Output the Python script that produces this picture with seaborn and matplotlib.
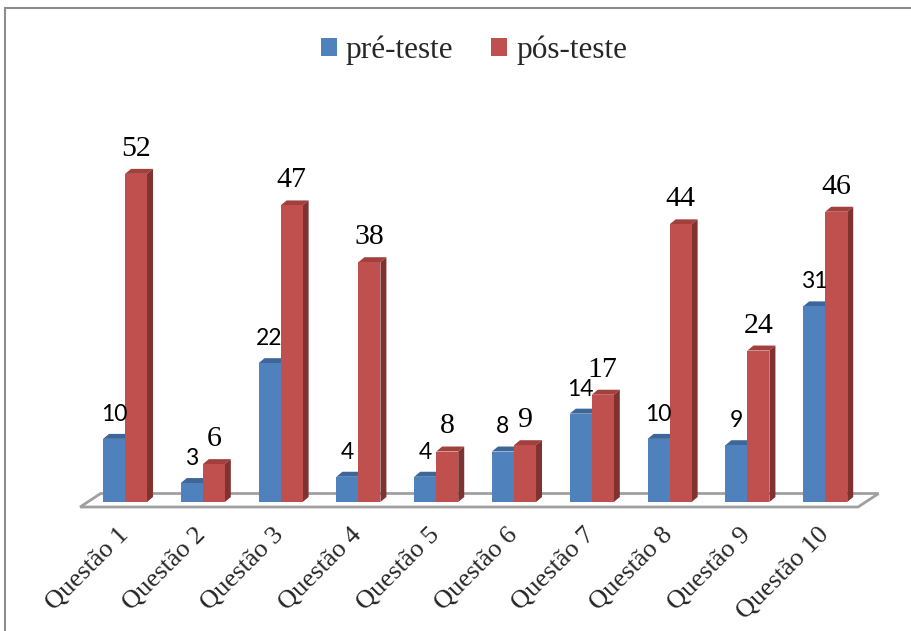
import numpy as np
import pandas as pd
import seaborn as sns
import matplotlib
matplotlib.use("Agg")
import matplotlib.pyplot as plt
from matplotlib.patches import Polygon, Rectangle
from matplotlib.lines import Line2D
from matplotlib.transforms import IdentityTransform

# --- data ---------------------------------------------------------------
questions = ["Questão 1", "Questão 2", "Questão 3", "Questão 4", "Questão 5",
             "Questão 6", "Questão 7", "Questão 8", "Questão 9", "Questão 10"]
series_names = ["pré-teste", "pós-teste"]
pre_test = [10, 3, 22, 4, 4, 8, 14, 10, 9, 31]
post_test = [52, 6, 47, 38, 8, 9, 17, 44, 24, 46]

df = pd.DataFrame({
    "questao": questions * 2,
    "teste": [series_names[0]] * len(questions) + [series_names[1]] * len(questions),
    "valor": pre_test + post_test,
})

# --- style --------------------------------------------------------------
sns.set_style("white")
plt.rcParams["font.family"] = ["Liberation Serif", "DejaVu Serif"]

front = {"pré-teste": "#4f81bd", "pós-teste": "#c0504d"}
top_col = {"pré-teste": "#3e6698", "pós-teste": "#a2403d"}
side_col = {"pré-teste": "#345782", "pós-teste": "#7f3230"}

W, H, DPI = 912, 631, 100
fig = plt.figure(figsize=(W / DPI, H / DPI), dpi=DPI)
fig.patch.set_facecolor("white")

# axes placed in pixel terms: x data 0 -> 125 px, 77.8 px per category;
# y data 0 -> 502 px from top, 6.31 px per unit
px_per_cat = 77.8
left_px = 125 - 0.5 * px_per_cat
ax_w = 10 * px_per_cat
y0_from_top = 502
px_per_unit = 6.31
ymax = 60
ax = fig.add_axes([left_px / W, (H - y0_from_top) / H,
                   ax_w / W, ymax * px_per_unit / H])

sns.barplot(data=df, x="questao", y="valor", hue="teste", palette=front,
            width=0.566, gap=0, legend=False, ax=ax, zorder=3,
            saturation=1, linewidth=0)
ax.set_xlim(-0.5, 9.5)
ax.set_ylim(0, ymax)
for s in ax.spines.values():
    s.set_visible(False)
ax.set_yticks([])
ax.set_xlabel("")
ax.set_ylabel("")
ax.tick_params(axis="x", length=0, pad=21)
ax.set_xticks(range(len(questions)))
ax.set_xticklabels(questions, rotation=45, ha="right", va="center",
                   rotation_mode="anchor")
for lab in ax.get_xticklabels():
    lab.set_fontfamily("Liberation Serif")
    lab.set_fontsize(19)

fig.canvas.draw()
to_disp = ax.transData.transform
ident = IdentityTransform()

# floor (drawn as a flat parallelogram under the bars)
fl_left = to_disp((-0.5, 0))
fl_right = to_disp((9.5, 0))
fwd = np.array([-6, -5])   # front edge offset (px)
back = np.array([14.5, 8.5])  # back edge offset (px)
floor = Polygon([fl_left + fwd, fl_right + fwd, fl_right + back, fl_left + back],
                closed=True, facecolor="white", edgecolor="#a0a0a0",
                linewidth=2, transform=ident, zorder=1, clip_on=False)
ax.add_artist(floor)

# 3D top and side faces for each bar
depth = np.array([6, 5])
label_fonts = {
    "pré-teste": dict(family=["Lato", "DejaVu Sans"], fontsize=16.5),
    "pós-teste": dict(family=["Liberation Serif"], fontsize=21.5),
}
for name, cont, vals in zip(series_names, ax.containers, [pre_test, post_test]):
    for bar, v in zip(cont, vals):
        x0, w = bar.get_x(), bar.get_width()
        h = bar.get_height()
        tl = to_disp((x0, h))
        tr = to_disp((x0 + w, h))
        br = to_disp((x0 + w, 0))
        ax.add_artist(Polygon([tl, tr, tr + depth, tl + depth], closed=True,
                              facecolor=top_col[name], edgecolor="none",
                              transform=ident, zorder=2, clip_on=False))
        ax.add_artist(Polygon([br, tr, tr + depth, br + depth], closed=True,
                              facecolor=side_col[name], edgecolor="none",
                              transform=ident, zorder=2, clip_on=False))
        ax.annotate(str(v), xy=(x0 + w / 2, h), xytext=(0, 13),
                    textcoords="offset points", ha="center", va="baseline",
                    color="black", annotation_clip=False, **label_fonts[name])

# legend above the plot
handles = [Rectangle((0, 0), 1, 1, facecolor=front[n], edgecolor="none")
           for n in series_names]
fig.legend(handles, series_names, loc="center", ncol=2, frameon=False,
           bbox_to_anchor=(474 / W, 1 - 50 / H),
           handlelength=0.5, handleheight=0.5, handletextpad=0.3,
           columnspacing=1.2, prop={"family": "Liberation Serif", "size": 22.5})

# chart-area frame (left and top edges)
fig.add_artist(Line2D([5 / W, 5 / W], [0, 1 - 8 / H], color="#8c8c8c",
                      linewidth=1.5, transform=fig.transFigure))
fig.add_artist(Line2D([5 / W, 1], [1 - 8 / H, 1 - 8 / H], color="#8c8c8c",
                      linewidth=1.5, transform=fig.transFigure))

fig.savefig("out.png", dpi=DPI, facecolor="white")
